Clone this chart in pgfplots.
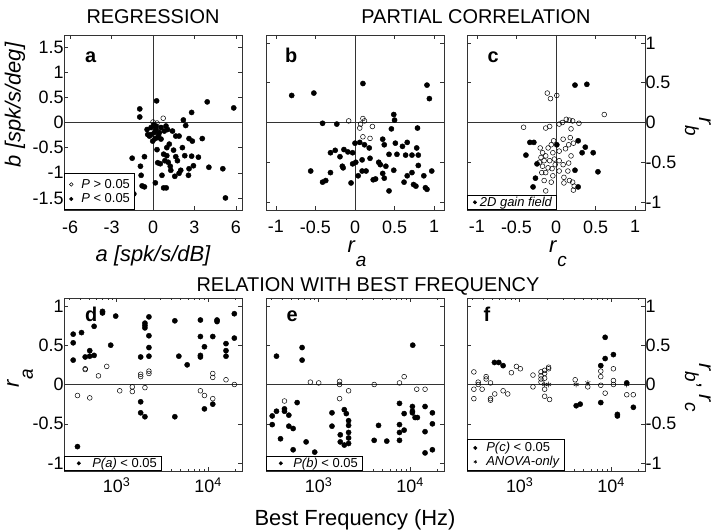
\documentclass[border=0pt]{standalone}
\usepackage{pgfplots}
\pgfplotsset{compat=1.18}
\usepackage{fontspec}
\setmainfont{Liberation Sans}
\newcommand{\fs}[1]{\fontsize{#1}{#1}\selectfont}
\newcommand{\lf}{\fs{13}}
\newcommand{\rsub}[1]{\textit{r}\kern0.3bp\raisebox{-14bp}{\fs{19}\textit{#1}}}
\tikzset{letter/.style={font=\fs{20}\bfseries, anchor=base west}}
\pgfplotsset{
  legmx/.initial=5bp, legw/.initial=12bp,
  dotlegend/.style={legend image code/.code={%
    \path[draw=white, line width=0.1bp] (0bp,0bp) -- (\pgfkeysvalueof{/pgfplots/legw},0bp);
    \draw[##1, mark size=1.8bp] plot coordinates {(\pgfkeysvalueof{/pgfplots/legmx},0bp)};}},
  base/.style={
    scale only axis, width=178bp, anchor=south west,
    tick align=inside,
    major tick length=4bp, minor tick length=2.2bp,
    axis line style={black!80, line width=0.6bp},
    every tick/.style={black!80, line width=0.5bp},
    tick label style={font=\fs{18}},
    /pgf/number format/assume math mode=true,
    legend cell align=left,
    legend style={at={(0,0)}, anchor=south west, draw=black, line width=0.5bp, fill=white,
      font=\lf, inner xsep=2bp, inner ysep=0.5bp, row sep=0bp,
      nodes={inner xsep=2bp, inner ysep=1.5bp}},
  },
  logbase/.style={base, height=173bp, xmin=265, xmax=23500, ymin=-1.1, ymax=1.1,
    xtick={1000,10000}, xticklabels={10\textsuperscript{3},10\textsuperscript{4}},
    minor xtick={300,400,500,600,700,800,900,2000,3000,4000,5000,6000,7000,8000,9000,20000},
    ytick={-1,-0.5,0,0.5,1}, xticklabel style={yshift=-3bp}},
  fdot/.style={only marks, mark=*, mark size=2.6bp, mark options={draw=black, fill=black, line width=0.4bp}, dotlegend},
  odot/.style={only marks, mark=o, mark size=2.4bp, mark options={draw=black, fill=white, line width=0.5bp}, dotlegend},
  sdot/.style={only marks, mark=asterisk, mark size=2.9bp, mark options={draw=black, line width=0.5bp}, dotlegend},
  zline/.style={black!80, line width=0.6bp, forget plot},
}
\begin{document}
\begin{tikzpicture}
\path[use as bounding box] (0bp,0bp) rectangle (720bp,532bp);
% ---------------- a
\begin{axis}[base, at={(64bp,322bp)}, height=175bp,
  xmin=-6.45, xmax=6.45, ymin=-1.74, ymax=1.74,
  xtick={-6,-3,0,3,6}, ytick={-1.5,-1,-0.5,0,0.5,1,1.5},
  xticklabel style={yshift=-7bp}, yticklabel style={xshift=3bp},
  legmx=5bp, legw=13bp, legend style={inner ysep=4bp, row sep=1bp}]
\addplot[zline] coordinates {(-6.45,0) (6.45,0)};
\addplot[zline] coordinates {(0,-1.74) (0,1.74)};
\addplot[odot] coordinates {(0.74,0.085) (0,0.01) (0.29,-0.01)};
\addlegendentry{\lf\textit{P} > 0.05}
\addplot[fdot] coordinates {
(0.26,0.43) (3.93,0.41) (5.85,0.29) (-0.96,0.27) (2.8,0.2) (-0.96,0.11) (2.2,0.05) (2.37,-0.06)
(-0.43,-0.14) (-0.14,-0.10) (0.22,-0.07) (0.58,-0.10) (0.94,-0.07) (0.1,-0.2) (0.46,-0.2)
(-0.26,-0.27) (0.34,-0.30) (-0.02,-0.37) (0.82,-0.17) (1.06,-0.14) (0.58,-0.33) (0.22,-0.14)
(-0.14,-0.24) (-0.38,-0.24) (1.41,-0.17) (1.65,-0.27) (1.89,-0.27) (1.18,-0.43) (2.61,-0.32)
(2.85,-0.37) (3.57,-0.32) (1.0,-0.5) (0.29,-0.54) (0.77,-0.63) (1.0,-0.66) (1.65,-0.68)
(-0.62,-0.68) (-1.51,-0.71) (2.3,-0.66) (2.8,-0.67) (3.29,-0.69) (0.34,-0.80) (0.53,-0.82)
(1.1,-0.79) (1.25,-0.87) (2.93,-0.86) (-0.91,-0.87) (2.01,-0.95) (1.89,-1.01) (1.58,-1.07)
(2.61,-0.92) (2.57,-1.05) (4.05,-0.89) (5.06,-0.92) (-0.86,-1.05) (0.17,-1.2) (-0.79,-1.26)
(-0.62,-1.28) (0.77,-1.30) (0.96,-1.30) (-1.39,-1.42) (5.25,-1.5) (0.86,-0.76) (1.77,-0.76)
(1.29,-0.95) (0.65,-1.05) (2.13,-0.5) (1.49,-0.55) (0.05,-0.05) (0.4,-0.25) (0.15,-0.32)};
\addlegendentry{\lf\textit{P} < 0.05}
\node[letter] at (rel axis cs:0.099,0.84) {a};
\end{axis}
% ---------------- b
\begin{axis}[base, at={(266bp,322bp)}, height=175bp,
  xmin=-1.125, xmax=1.125, ymin=-1.1, ymax=1.1,
  xtick={-1,-0.5,0,0.5,1}, ytick={-1,-0.5,0,0.5,1}, yticklabels={},
  xticklabel style={yshift=-7bp}]
\addplot[zline] coordinates {(-1.125,0) (1.125,0)};
\addplot[zline] coordinates {(0,-1.1) (0,1.1)};
\addplot[odot] coordinates {(-0.08,0.02) (0.1,0.05) (0.12,0.02) (0.07,-0.02) (0.06,-0.07) (0.22,-0.05) (0.1,-0.18) (0.19,-0.2)};
\addplot[fdot] coordinates {
(-0.8,0.34) (-0.52,0.37) (0.1,0.49) (0.91,0.47) (0.94,0.30) (-0.41,-0.01) (-0.23,-0.02)
(0.49,0.1) (0.5,0.03) (0.46,-0.08) (0.79,-0.07) (0,-0.26) (0.06,-0.25) (0.12,-0.28) (0.18,-0.32)
(0.35,-0.21) (0.37,-0.28) (0.43,-0.4) (0.51,-0.26) (0.6,-0.3) (0.66,-0.25) (0.72,-0.41) (0.78,-0.32)
(0.8,-0.41) (0.64,-0.41) (0.53,-0.4) (-0.25,-0.35) (-0.31,-0.38) (-0.14,-0.34) (-0.09,-0.37)
(-0.03,-0.38) (-0.19,-0.43) (-0.16,-0.55) (-0.15,-0.57) (-0.03,-0.52) (0.01,-0.5) (0.09,-0.47)
(0.19,-0.45) (0.3,-0.5) (0.32,-0.53) (0.39,-0.55) (0.09,-0.61) (0.04,-0.67) (-0.05,-0.76)
(-0.31,-0.63) (-0.56,-0.61) (-0.41,-0.75) (-0.37,-0.73) (0.14,-0.61) (0.23,-0.72) (0.26,-0.71)
(0.35,-0.64) (0.37,-0.7) (0.43,-0.86) (0.49,-0.6) (0.62,-0.75) (0.66,-0.67) (0.72,-0.63)
(0.74,-0.78) (0.77,-0.8) (0.8,-0.54) (0.87,-0.67) (0.89,-0.82) (0.97,-0.61) (0.91,-0.84)};
\node[letter] at (rel axis cs:0.088,0.84) {b};
\end{axis}
% ---------------- c
\begin{axis}[base, at={(467bp,322bp)}, height=175bp,
  xmin=-1.125, xmax=1.125, ymin=-1.1, ymax=1.1,
  xtick={-1,-0.5,0,0.5,1}, ytick={-1,-0.5,0,0.5,1},
  yticklabel pos=right, yticklabel style={xshift=-3bp},
  xticklabel style={yshift=-7bp}, legmx=5.6bp, legw=8.6bp]
\addplot[zline] coordinates {(-1.125,0) (1.125,0)};
\addplot[zline] coordinates {(0,-1.1) (0,1.1)};
\addplot[odot, forget plot] coordinates {
(-0.11,0.37) (-0.07,0.3) (0.01,0.34) (0.61,0.1) (-0.41,-0.06) (-0.13,-0.07) (-0.08,-0.05)
(0.04,-0.02) (0.08,0) (0.13,0.04) (0.17,0.03) (0.21,0.02) (0.19,-0.08) (0.29,-0.01)
(-0.03,-0.23) (-0.06,-0.28) (-0.1,-0.32) (-0.2,-0.32) (-0.17,-0.38) (-0.13,-0.42) (-0.19,-0.44)
(-0.15,-0.48) (-0.08,-0.48) (-0.02,-0.46) (-0.04,-0.38) (0.04,-0.36) (0.09,-0.21) (0.16,-0.28)
(0.18,-0.19) (0.22,-0.26) (0.12,-0.33) (0.19,-0.42) (0.09,-0.53) (0.16,-0.51) (-0.17,-0.55)
(-0.1,-0.57) (-0.13,-0.63) (-0.18,-0.63) (-0.05,-0.58) (-0.04,-0.67) (-0.06,-0.75) (-0.15,-0.73)
(0.04,-0.61) (0.1,-0.69) (0.1,-0.76) (0.17,-0.73) (0.21,-0.75) (0.23,-0.8) (0.22,-0.85)
(0.15,-0.61) (-0.13,-0.86) (0.04,-0.48) (-0.01,-0.53) (-0.21,-0.5)};
\addplot[fdot] coordinates {
(0.24,0.47) (0.39,0.48) (-0.33,-0.25) (-0.28,-0.25) (-0.38,-0.41) (-0.24,-0.52) (-0.26,-0.7)
(-0.29,-0.81) (0.01,-0.28) (0.28,-0.23) (0.37,-0.31) (0.33,-0.38) (0.47,-0.38) (0.53,-0.62)
(0.24,-0.6) (0.28,-0.81)};
\addlegendentry{\lf\textit{2D gain field}}
\node[letter] at (rel axis cs:0.096,0.845) {c};
\end{axis}
% ---------------- d
\begin{semilogxaxis}[logbase, at={(64bp,61bp)}, yticklabel style={xshift=3bp}, legmx=12.5bp, legw=24bp]
\addplot[zline] coordinates {(265,0) (23500,0)};
\addplot[odot, forget plot] coordinates {
(452,0.2) (452,0.19) (631,0.11) (778,0.23) (372,-0.14) (507,-0.17) (1079,-0.08) (1482,-0.03)
(1482,-0.09) (2036,-0.04) (1829,0.13) (1829,0.1) (2252,0.17) (2252,0.14) (8240,-0.08)
(9120,-0.14) (11250,-0.18) (11250,0.14) (11250,0.09) (15700,0.06) (19370,0)};
\addplot[fdot] coordinates {
(334,0.64) (334,0.53) (334,0.31) (412,0.66) (566,0.74) (699,0.93) (699,0.91) (975,0.87)
(452,0.35) (507,0.43) (507,0.36) (566,0.37) (860,0.5) (372,-0.79) (1829,0.35) (2036,0.78)
(2036,0.75) (2036,0.72) (2252,0.86) (2252,0.62) (2252,0.47) (2252,0.36) (1829,-0.22)
(1829,-0.36) (2036,-0.41) (4327,0.81) (4786,0.36) (5902,0.25) (4327,-0.41) (8240,0.82)
(8240,0.61) (8240,0.37) (8240,0.35) (9120,0.48) (9120,-0.31) (11250,0.61) (12530,0.82)
(12530,0.8) (11250,-0.25) (15700,0.52) (15700,0.43) (15700,0.36) (19370,0.9) (19370,0.59)};
\addlegendentry{\lf\textit{P(a)} < 0.05}
\node[letter] at (rel axis cs:0.099,0.863) {d};
\end{semilogxaxis}
% ---------------- e
\begin{semilogxaxis}[logbase, at={(266bp,61bp)}, yticklabels={}, legmx=12.5bp, legw=23bp]
\addplot[zline] coordinates {(265,0) (23500,0)};
\addplot[odot, forget plot] coordinates {
(422,-0.21) (811,0.03) (1000,0.02) (1693,0.04) (1693,0) (2123,-0.08) (1693,-0.18) (4045,0)
(7656,0.02) (8610,0.1) (11820,-0.06) (14580,-0.06)};
\addplot[fdot] coordinates {
(345,0.36) (658,0.47) (658,0.31) (10690,0.5) (581,-0.23) (310,-0.4) (310,-0.51) (345,-0.34)
(422,-0.31) (422,-0.34) (471,-0.39) (471,-0.53) (525,-0.56) (382,-0.69) (525,-0.83) (728,-0.73)
(904,-0.86) (1397,-0.36) (1397,-0.53) (1905,-0.32) (2005,-0.37) (2123,-0.46) (2123,-0.52)
(2123,-0.61) (2123,-0.68) (1722,-0.64) (1722,-0.73) (1905,-0.77) (2123,-0.75) (4045,-0.71)
(4516,-0.52) (5557,-0.72) (7656,-0.24) (7656,-0.51) (7656,-0.61) (7656,-0.71) (8610,-0.37)
(8610,-0.58) (10600,-0.28) (10600,-0.34) (10600,-0.36) (11340,-0.42) (12020,-0.42)
(14580,-0.28) (14580,-0.6) (14580,-0.87) (17540,-0.36) (17540,-0.5) (17540,-0.83)};
\addlegendentry{\lf\textit{P(b)} < 0.05}
\node[letter] at (rel axis cs:0.096,0.863) {e};
\end{semilogxaxis}
% ---------------- f
\begin{semilogxaxis}[logbase, at={(467bp,61bp)}, yticklabel pos=right, yticklabel style={xshift=-3bp},
  legmx=5bp, legw=14bp, legend style={inner ysep=2bp, inner xsep=3bp, row sep=0bp}]
\addplot[zline] coordinates {(265,0) (23500,0)};
\addplot[odot, forget plot] coordinates {
(315,0.16) (315,-0.06) (315,-0.18) (351,0.03) (351,0) (388,-0.06) (429,0.1) (429,0.07)
(479,0.02) (479,-0.18) (479,-0.2) (533,-0.12) (658,-0.08) (739,-0.12) (811,0.15) (920,0.23)
(1016,0.2) (1397,0.12) (1397,-0.03) (1710,0.16) (1710,0.11) (1710,0.07) (1710,0.03)
(1874,0.18) (1874,0.14) (1874,0.08) (1874,-0.06) (1874,-0.15) (2070,0.22) (2070,0.2)
(2123,-0.19) (4045,0.06) (5557,-0.03) (7710,0.17) (7710,0.1) (7710,-0.01) (8610,-0.11)
(10600,0.2) (10600,0.05) (10600,0) (14830,-0.13) (17500,-0.13)};
\addplot[fdot] coordinates {
(529,0.28) (590,0.28) (658,0.24) (4150,-0.27) (4590,-0.25) (7710,0.24) (8610,0.6) (8610,0.33)
(10600,0.38) (7710,-0.23) (11720,-0.38) (11720,-0.4) (14830,0.02) (17530,-0.29)};
\addlegendentry{\lf\textit{P(c)} < 0.05}
\addplot[sdot] coordinates {(1874,0) (2070,0) (4150,0) (5557,0.02) (14830,0)};
\addlegendentry{\lf\textit{ANOVA-only}}
\node[letter] at (rel axis cs:0.073,0.863) {f};
\end{semilogxaxis}
% ---------------- texts
\node[font=\fs{20}] at (153bp,515bp) {REGRESSION};
\node[font=\fs{20}] at (476bp,515bp) {PARTIAL CORRELATION};
\node[font=\fs{20}] at (368bp,246bp) {RELATION WITH BEST FREQUENCY};
\node[font=\fs{22}\itshape] at (153bp,276bp) {a [spk/s/dB]};
\node[font=\fs{22}, anchor=base] at (357bp,279bp) {\rsub{a}};
\node[font=\fs{22}, anchor=base] at (558bp,279bp) {\rsub{c}};
\node[font=\fs{22}\itshape, rotate=90] at (15bp,427bp) {b [spk/s/deg]};
\node[font=\fs{22}, rotate=90] at (20bp,154bp) {\rsub{a}};
\node[font=\fs{22}, rotate=-90] at (698bp,405bp) {\rsub{b}};
\node[font=\fs{22}, rotate=-90] at (698bp,144bp) {\rsub{b}, \rsub{c}};
\node[font=\fs{22}] at (355bp,12bp) {Best Frequency (Hz)};
\end{tikzpicture}
\end{document}
